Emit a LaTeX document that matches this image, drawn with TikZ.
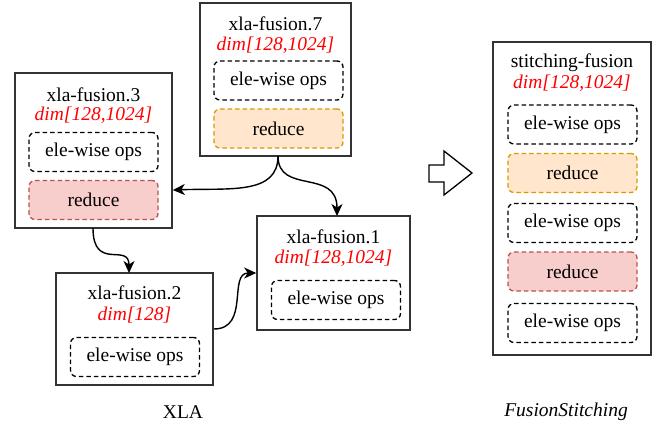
\documentclass[tikz,border=0pt]{standalone}
\usepackage{fontspec}
\setmainfont{Liberation Serif}
\usetikzlibrary{arrows.meta}
\definecolor{orfill}{HTML}{FFE6CC}
\definecolor{orline}{HTML}{D79B00}
\definecolor{rdfill}{HTML}{F8CECC}
\definecolor{rdline}{HTML}{B85450}
\definecolor{boxline}{HTML}{333333}
\begin{document}
\begin{tikzpicture}[x=1pt,y=-1pt,
  outer/.style={draw=boxline,line width=1.6pt,fill=white,rectangle,inner sep=0pt},
  ttl/.style={inner sep=0pt,font=\fontsize{19.5}{22}\selectfont},
  dimt/.style={inner sep=0pt,text=red,font=\fontsize{19.5}{22}\selectfont\itshape},
  opbox/.style={draw=black,dash pattern=on 4.5pt off 3pt,line width=1.3pt,rounded corners=6pt,minimum width=129pt,minimum height=39pt,inner sep=0pt,font=\fontsize{19.5}{22}\selectfont},
  redorange/.style={opbox,draw=orline,fill=orfill},
  redred/.style={opbox,draw=rdline,fill=rdfill},
  conn/.style={line width=1.4pt,-{Stealth[length=12pt,width=11pt,inset=3.5pt]}},
  lbl/.style={inner sep=0pt,font=\fontsize{19.5}{22}\selectfont}
]
\useasboundingbox (0,0) rectangle (660,431);

% xla-fusion.7
\node[outer,minimum width=151pt,minimum height=153pt] (f7) at (275.5,79.5) {};
\node[ttl] (f7t) at (275.5,24) {xla-fusion.7};
\node[dimt] (f7d) at (275.5,45) {dim[128,1024]};
\node[opbox] (f7e) at (278.5,80.5) {ele-wise ops};
\node[redorange] (f7r) at (278.5,128.5) {reduce};

% xla-fusion.3
\node[outer,minimum width=157pt,minimum height=155pt] (f3) at (93.5,150.5) {};
\node[ttl] (f3t) at (93.5,95) {xla-fusion.3};
\node[dimt] (f3d) at (93.5,115) {dim[128,1024]};
\node[opbox] (f3e) at (93.5,152) {ele-wise ops};
\node[redred] (f3r) at (93.5,200) {reduce};

% xla-fusion.2
\node[outer,minimum width=157pt,minimum height=112pt] (f2) at (134.5,329) {};
\node[ttl] (f2t) at (134.5,293) {xla-fusion.2};
\node[dimt] (f2d) at (134.5,315) {dim[128]};
\node[opbox] (f2e) at (135,357) {ele-wise ops};

% xla-fusion.1
\node[outer,minimum width=153pt,minimum height=114pt] (f1) at (333.5,273) {};
\node[ttl] (f1t) at (333.5,237) {xla-fusion.1};
\node[dimt] (f1d) at (333.5,258) {dim[128,1024]};
\node[opbox] (f1e) at (336,300) {ele-wise ops};

% stitching-fusion
\node[outer,minimum width=158pt,minimum height=313pt] (sf) at (572,198.5) {};
\node[ttl] (sft) at (572,63) {stitching-fusion};
\node[dimt] (sfd) at (572,83) {dim[128,1024]};
\node[opbox] (s1) at (572.5,124.5) {ele-wise ops};
\node[redorange] (s2) at (572.5,173) {reduce};
\node[opbox] (s3) at (572.5,223) {ele-wise ops};
\node[redred] (s4) at (572.5,271.5) {reduce};
\node[opbox] (s5) at (572.5,323) {ele-wise ops};

% connectors
\coordinate (f7b) at (278,156);
\coordinate (f3in) at (f3.east |- 0,190);
\coordinate (f1in) at (337,216);
\coordinate (f3b) at (93,228);
\coordinate (f2in) at (129,273);
\coordinate (f2out) at (f2.east |- 0,329);
\coordinate (f1l) at (f1.west |- 0,273);
\draw[conn] (f7b) .. controls (278,195) and (230,188) .. (f3in);
\draw[conn] (f7b) .. controls (278,195) and (337,168) .. (f1in);
\draw[conn] (f3b) .. controls (93,272) and (129,242) .. (f2in);
\draw[conn] (f2out) .. controls (250,329) and (228,273) .. (f1l);

% big arrow
\draw[line width=1.3pt,fill=white,line join=miter] (429,165) -- (444,165) -- (444,151) -- (472,173) -- (444,195) -- (444,182) -- (429,182) -- cycle;

% labels
\node[lbl] (xla) at (183,412) {XLA};
\node[lbl,font=\fontsize{19.5}{22}\selectfont\itshape] (fs) at (566,412) {FusionStitching};
\end{tikzpicture}
\end{document}
